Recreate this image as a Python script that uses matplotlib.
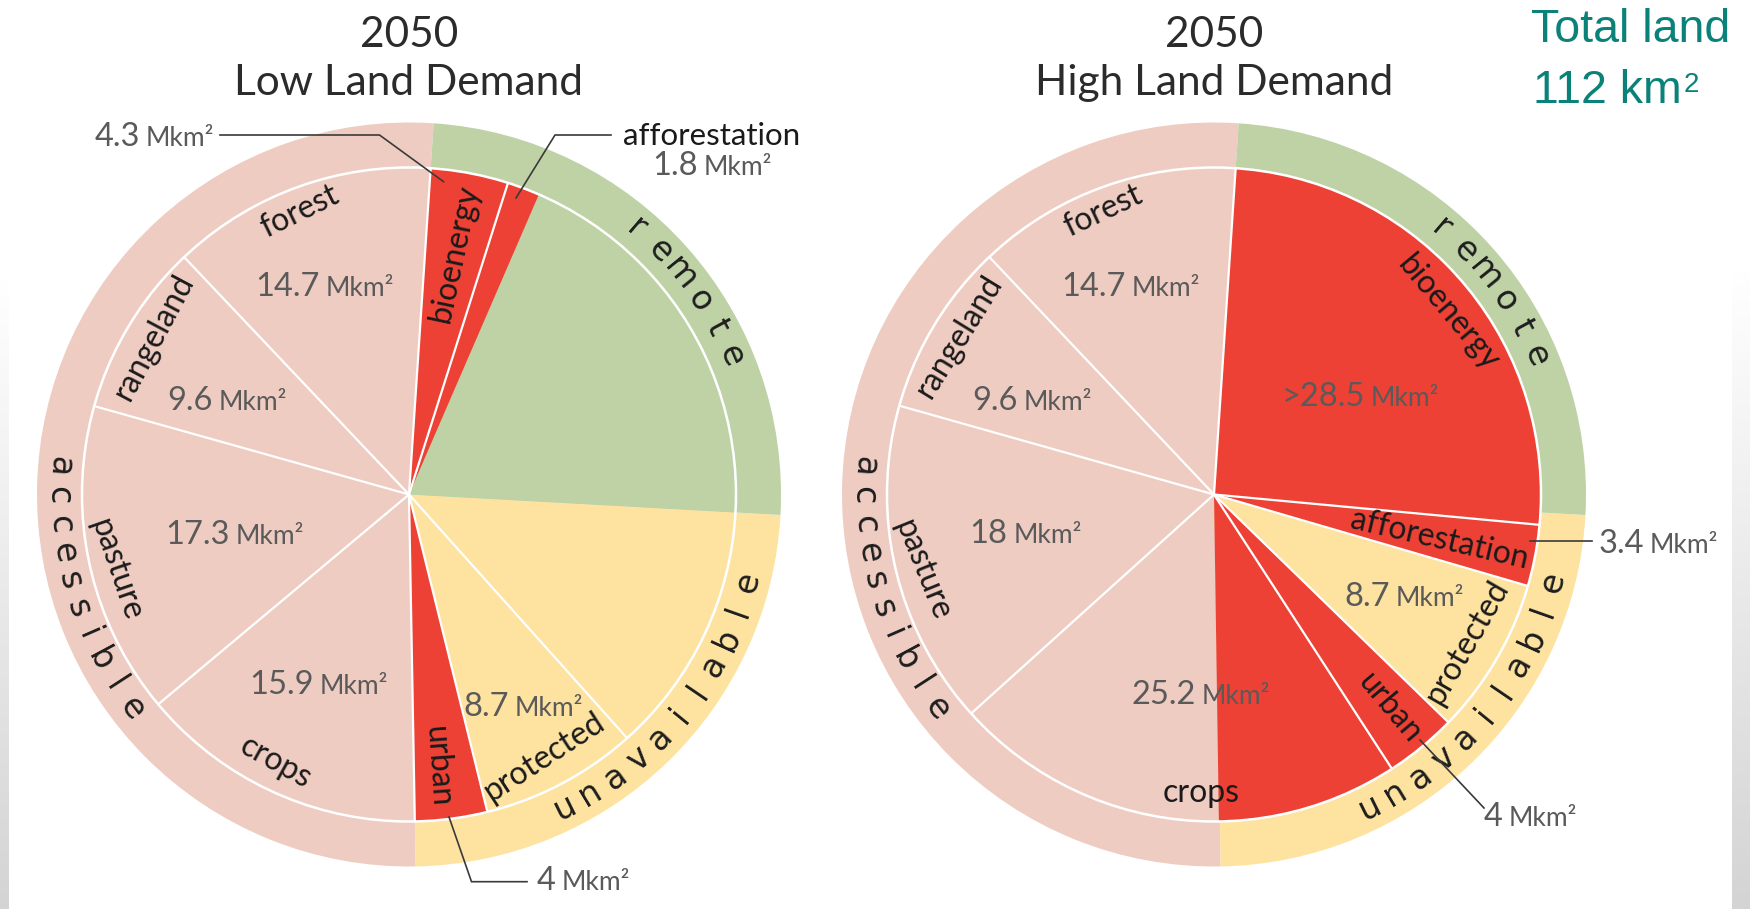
import numpy as np
import matplotlib
matplotlib.use('Agg')
import matplotlib.pyplot as plt
from matplotlib import font_manager
from matplotlib.patches import Circle
from matplotlib.colors import LinearSegmentedColormap

W, H = 1750, 909

# ---------------- data ----------------
total_land = 112  # Mkm2
ring_labels = ['accessible', 'unavailable', 'remote']
ring_values = [57.5, 26.7, 27.8]

low_labels = ['forest', 'rangeland', 'pasture', 'crops', 'urban', 'protected',
              'unavailable (other)', 'remote (other)', 'afforestation', 'bioenergy']
low_values = [14.7, 9.6, 17.3, 15.9, 4.0, 8.7, 14.0, 21.7, 1.8, 4.3]

high_labels = ['forest', 'rangeland', 'pasture', 'crops', 'crops (expansion)', 'urban',
               'protected', 'afforestation', 'bioenergy']
high_values = [14.7, 9.6, 18.0, 15.2, 10.0, 4.0, 8.7, 3.4, 28.5]
high_crops_total = 25.2

titles = ['2050\nLow Land Demand', '2050\nHigh Land Demand']

# ---------------- style ----------------
PINK = '#EECCC2'
RED = '#ED4135'
GREEN = '#BED2A6'
YELLOW = '#FDE2A0'
TEAL = '#0A8279'
GRAY = '#5A5A5A'
DARK = '#2B2B2B'
BLACK = '#1A1A1A'

ring_colors = [PINK, YELLOW, GREEN]
low_colors = [PINK, PINK, PINK, PINK, RED, YELLOW, YELLOW, GREEN, RED, RED]
high_colors = [PINK, PINK, PINK, PINK, RED, RED, YELLOW, RED, RED]
low_skip = [6, 7]      # no separator after these wedges
high_skip = [3]

avail = {f.name for f in font_manager.fontManager.ttflist}
BODY = 'Lato' if 'Lato' in avail else 'DejaVu Sans'
ARIAL = 'Liberation Sans' if 'Liberation Sans' in avail else 'DejaVu Sans'
plt.rcParams['font.family'] = [BODY, 'DejaVu Sans']

START = 86.2
R_OUT = 372
R_IN = 327
R_TXT = 350
CY = H - 494.5
CX_LOW, CX_HIGH = 409, 1214

fig = plt.figure(figsize=(W / 100, H / 100), dpi=100)
ax = fig.add_axes([0, 0, 1, 1])
ax.axis('off')

# faint grey slide edges
cmap = LinearSegmentedColormap.from_list('edge', ['#ffffff', '#d4d4d4'])
grad = np.linspace(0, 1, 256).reshape(-1, 1)
ax.imshow(grad, extent=(0, 9, 0, H - 280), cmap=cmap, aspect='auto', origin='upper', zorder=0)
ax.imshow(grad, extent=(1732, W, 0, H - 270), cmap=cmap, aspect='auto', origin='upper', zorder=0)


def Y(y):
    return H - y


def draw_pie(cx, vals, colors, skip):
    ax.pie(ring_values, radius=R_OUT, center=(cx, CY), startangle=START,
           colors=ring_colors, frame=True, wedgeprops=dict(linewidth=0.3, edgecolor='none'))
    ax.pie(vals, radius=R_IN, center=(cx, CY), startangle=START,
           colors=colors, frame=True, wedgeprops=dict(linewidth=0.3, edgecolor='none'))
    cum = START + np.cumsum(vals) / np.sum(vals) * 360.0
    for i, a in enumerate(cum):
        if i in skip:
            continue
        t = np.deg2rad(a)
        ax.plot([cx, cx + R_IN * np.cos(t)], [CY, CY + R_IN * np.sin(t)],
                color='white', lw=1.6, solid_capstyle='butt', zorder=3)
    ax.add_patch(Circle((cx, CY), R_IN, fill=False, ec='white', lw=1.8, zorder=3))


def ring_word(cx, word, a0, a1, ccw):
    angs = np.linspace(a0, a1, len(word))
    for ch, a in zip(word, angs):
        t = np.deg2rad(a)
        rot = a + 90 if ccw else a - 90
        ax.text(cx + R_TXT * np.cos(t), CY + R_TXT * np.sin(t), ch, rotation=rot,
                rotation_mode='anchor', ha='center', va='center', fontsize=24,
                family='DejaVu Sans', color='#1E1E1E', zorder=5)


def cat(x, y, s, rot, fs=23):
    ax.text(x, Y(y), s, rotation=rot, rotation_mode='anchor', ha='center', va='center',
            fontsize=fs, color=BLACK, zorder=5)


def val(x, yc, num, unit='Mkm²'):
    yb = Y(yc + 11.5)
    ax.text(x - 3, yb, num, ha='right', va='baseline', fontsize=23.5, color=GRAY, zorder=5)
    ax.text(x + 3, yb, unit, ha='left', va='baseline', fontsize=19, color=GRAY, zorder=5)


def leader(xs, ys):
    ax.plot(xs, [Y(v) for v in ys], color='#3A3A3A', lw=1.2, zorder=6,
            solid_joinstyle='miter')


def fmt(v):
    return '%g' % v


# ---------------- pies ----------------
draw_pie(CX_LOW, low_values, low_colors, low_skip)
draw_pie(CX_HIGH, high_values, high_colors, high_skip)

for cx in (CX_LOW, CX_HIGH):
    ring_word(cx, ring_labels[0], 175.5, 217.6, True)
    ring_word(cx, ring_labels[1], -63.7, -14.6, True)
    ring_word(cx, ring_labels[2], 49.5, 23.3, False)

# titles
for cx, t in zip((CX_LOW, CX_HIGH), titles):
    l1, l2 = t.split('\n')
    ax.text(cx, Y(47), l1, ha='center', va='baseline', fontsize=30.5, color=DARK)
    ax.text(cx, Y(95), l2, ha='center', va='baseline', fontsize=30.5, color=DARK)

# total land
ax.text(1531, Y(42), 'Total land', ha='left', va='baseline', fontsize=33.5,
        color=TEAL, family=ARIAL)
km = ax.text(1533, Y(103), '%d km' % total_land, ha='left', va='baseline', fontsize=33.5,
             color=TEAL, family=ARIAL)
ax.annotate('2', xy=(1, 1), xycoords=km, xytext=(1.5, -2), textcoords='offset points',
            ha='left', va='top', fontsize=20, color=TEAL, family=ARIAL)

# ---- low land demand labels ----
cat(300, 211.5, low_labels[0], 26)
cat(153.5, 336.5, low_labels[1], 62)
cat(116, 570, low_labels[2], -71)
cat(276, 763, low_labels[3], -29)
cat(438, 767, low_labels[4], -86)
cat(544, 757, low_labels[5], 33)
cat(455, 253, low_labels[9], 78)

val(322.6, 285, fmt(low_values[0]))
val(216, 398, fmt(low_values[1]))
val(233, 532, fmt(low_values[2]))
val(317, 683, fmt(low_values[3]))
val(512, 705, fmt(low_values[5]))
val(143, 135, fmt(low_values[9]))
val(701, 163.5, fmt(low_values[8]))
val(559, 879, fmt(low_values[4]))

ax.text(711.5, Y(145), low_labels[8], ha='center', va='baseline', fontsize=22.5, color=BLACK)

leader([220, 379.5, 443.6], [135, 135, 181.7])
leader([611, 555, 516], [135, 135, 198])
leader([449, 471.5, 527], [817, 881.7, 881.7])

# ---- high land demand labels ----
cat(1102.6, 211.5, high_labels[0], 25.3)
cat(959, 336.5, high_labels[1], 58.4)
cat(922.8, 570, high_labels[2], -68)
cat(1201, 793, high_labels[3], 0)
cat(1448, 313.5, high_labels[8], -50)
cat(1439, 540, high_labels[7], -13)
cat(1467, 642, high_labels[6], 60)
cat(1390, 708, high_labels[5], -50)

val(1128.7, 285, fmt(high_values[0]))
val(1021, 398, fmt(high_values[1]))
val(1010.5, 531.7, fmt(high_values[2]))
val(1199, 693, fmt(high_crops_total))
val(1368, 395, '>' + fmt(high_values[8]))
val(1393, 595, fmt(high_values[6]))
val(1647, 541.7, fmt(high_values[7]))
val(1506, 815, fmt(high_values[5]))

leader([1529.5, 1591.5], [540.7, 540.7])
leader([1420, 1484], [740, 808])

ax.set_xlim(0, W)
ax.set_ylim(0, H)
ax.set_aspect('auto')

fig.savefig('out.png', dpi=100, facecolor='white')
